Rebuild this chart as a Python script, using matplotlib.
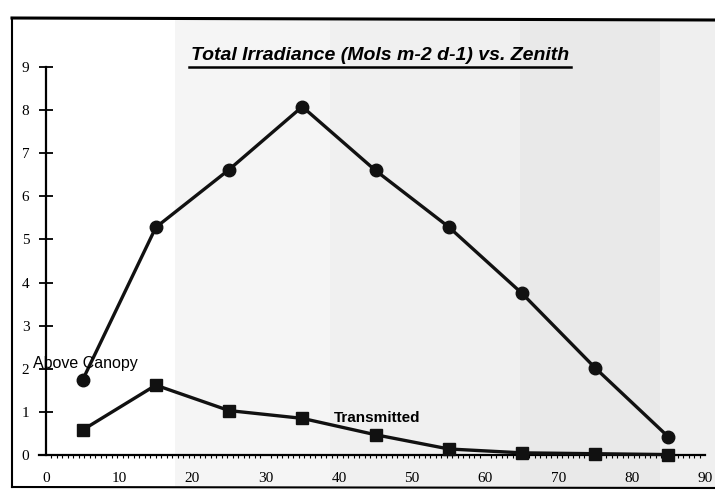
import matplotlib
matplotlib.use("Agg")
import matplotlib.pyplot as plt
from matplotlib.lines import Line2D
from matplotlib.patches import Rectangle

zenith = [5, 15, 25, 35, 45, 55, 65, 75, 85]
above_canopy = [1.74, 5.28, 6.62, 8.08, 6.6, 5.29, 3.75, 2.02, 0.42]
transmitted = [0.58, 1.62, 1.03, 0.85, 0.47, 0.14, 0.05, 0.03, 0.01]
x_ticks = [0, 10, 20, 30, 40, 50, 60, 70, 80, 90]
y_ticks = [0, 1, 2, 3, 4, 5, 6, 7, 8, 9]
title = "Total Irradiance (Mols m-2 d-1) vs. Zenith"

W, H = 715, 491
fig = plt.figure(figsize=(W / 100, H / 100), dpi=100)
fig.patch.set_facecolor("white")

def fx(px):
    return px / W

def fy(py):
    return 1 - py / H

# scanned-paper background bands
bands = [(175, 330, "#f5f5f5"), (330, 520, "#f0f0f0"), (520, 660, "#e9e9e9"), (660, 715, "#efefef")]
for x0, x1, c in bands:
    fig.patches.append(Rectangle((fx(x0), fy(487)), fx(x1) - fx(x0), fy(20) - fy(487),
                                 transform=fig.transFigure, facecolor=c, edgecolor="none", zorder=-5))

# frame
fig.lines.append(Line2D([fx(12), fx(715)], [fy(18), fy(20)], transform=fig.transFigure, color="black", lw=2.2, zorder=-4))
fig.lines.append(Line2D([fx(12), fx(12)], [fy(18), fy(487)], transform=fig.transFigure, color="black", lw=1.5, zorder=-4))
fig.lines.append(Line2D([fx(12), fx(715)], [fy(487), fy(488)], transform=fig.transFigure, color="black", lw=1.5, zorder=-4))

ax = fig.add_axes([fx(46), fy(455), fx(705) - fx(46), fy(67) - fy(455)])
ax.set_zorder(2)
ax.set_facecolor("none")
ax.set_xlim(0, 90)
ax.set_ylim(0, 9)

ax.plot(zenith, above_canopy, color="#111111", lw=2.4, marker="o", markersize=9, zorder=3, clip_on=False)
ax.plot(zenith, transmitted, color="#111111", lw=2.4, marker="s", markersize=8, zorder=3, clip_on=False)

for s in ["top", "right"]:
    ax.spines[s].set_visible(False)
ax.spines["left"].set_linewidth(1.6)
ax.spines["bottom"].set_linewidth(1.6)
ax.spines["bottom"].set_bounds(-1, 90)

ax.set_yticks(y_ticks)
ax.set_xticks(x_ticks)
ax.set_xticks([i * 0.75 for i in range(0, 121)], minor=True)
ax.tick_params(axis="y", direction="inout", length=10, width=1.3, pad=7, labelsize=11)
ax.tick_params(axis="x", which="major", direction="out", length=0, pad=12, labelsize=11)
ax.tick_params(axis="x", which="minor", direction="out", length=2, width=0.8)
for lab in ax.get_xticklabels() + ax.get_yticklabels():
    lab.set_fontfamily("Liberation Serif")

ax.text(-1.8, 2.12, "Above Canopy", fontsize=11.5, family="Liberation Sans", ha="left", va="center")
ax.text(39.3, 0.85, "Transmitted", fontsize=11, family="Liberation Sans", weight="bold", ha="left", va="center")

fig.text(fx(380), fy(56), title, ha="center", va="center", fontsize=14,
         family="Liberation Sans", weight="bold", style="italic")
fig.lines.append(Line2D([fx(189), fx(571)], [fy(67), fy(67)], transform=fig.transFigure, color="black", lw=1.8))

fig.savefig("out.png", dpi=100, facecolor=fig.get_facecolor())
